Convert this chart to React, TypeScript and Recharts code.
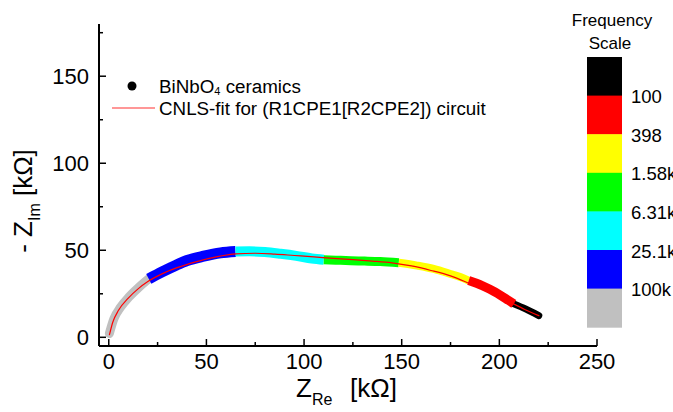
import React from "react";
import { ComposedChart, Line, XAxis, YAxis } from "recharts";

// measured points, grouped by frequency band (Z_Re, -Z_Im in kOhm)
const band100k = [
  { re: 0.3, im: 2.2 },
  { re: 2.6, im: 10.6 },
  { re: 6, im: 17.2 },
  { re: 10.2, im: 23 },
  { re: 15.4, im: 28.7 },
  { re: 20.5, im: 33.6 },
];
const band25k = [
  { re: 20.5, im: 33.6 },
  { re: 27.3, im: 37.6 },
  { re: 34.2, im: 41.3 },
  { re: 40.1, im: 44.1 },
  { re: 48.6, im: 46.6 },
  { re: 57.2, im: 48.5 },
  { re: 64.9, im: 49.3 },
];
const band6k = [
  { re: 64.9, im: 49.3 },
  { re: 72, im: 49.4 },
  { re: 80, im: 49 },
  { re: 88, im: 48 },
  { re: 96, im: 46.8 },
  { re: 104, im: 45.3 },
  { re: 110.1, im: 44.6 },
];
const band1k = [
  { re: 110.1, im: 44.6 },
  { re: 117, im: 44.3 },
  { re: 124, im: 44.0 },
  { re: 131, im: 43.8 },
  { re: 139, im: 43.5 },
  { re: 148.5, im: 42.8 },
];
const band398 = [
  { re: 148.5, im: 42.8 },
  { re: 157.9, im: 41.2 },
  { re: 166.4, im: 39.3 },
  { re: 175, im: 36.4 },
  { re: 180, im: 34.6 },
  { re: 184.3, im: 32.6 },
];
const band100 = [
  { re: 184.3, im: 32.6 },
  { re: 191.2, im: 29.7 },
  { re: 198, im: 25.9 },
  { re: 204.8, im: 21.1 },
  { re: 207.4, im: 19.2 },
];
const bandLow = [
  { re: 207.4, im: 19.2 },
  { re: 213.4, im: 16.3 },
  { re: 220.2, im: 12.5 },
];

// CNLS fit curve
const fitCurve = [
  { re: 0.3, im: 1.2 },
  { re: 2, im: 8.5 },
  { re: 5, im: 15.5 },
  { re: 10, im: 22.5 },
  { re: 15, im: 27.8 },
  { re: 20, im: 32 },
  { re: 27, im: 36.3 },
  { re: 35, im: 40 },
  { re: 45, im: 43.5 },
  { re: 55, im: 46.2 },
  { re: 65, im: 47.9 },
  { re: 75, im: 48.3 },
  { re: 85, im: 47.8 },
  { re: 95, im: 47.0 },
  { re: 105, im: 46.2 },
  { re: 115, im: 45.3 },
  { re: 125, im: 44.6 },
  { re: 135, im: 43.8 },
  { re: 145, im: 42.8 },
  { re: 155, im: 41.0 },
  { re: 165, im: 38.4 },
  { re: 175, im: 35.3 },
  { re: 185, im: 30.8 },
  { re: 195, im: 26 },
  { re: 205, im: 20.5 },
  { re: 213, im: 16 },
  { re: 220.5, im: 12.3 },
];

// draw order: black goes under red so its rounded start is hidden
const bands = [
  { data: band100k, color: "#c0c0c0", width: 9, cap: "round" },
  { data: band25k, color: "#0000ff", width: 11, cap: "butt" },
  { data: band6k, color: "#00ffff", width: 10, cap: "butt" },
  { data: band1k, color: "#00ff00", width: 9, cap: "butt" },
  { data: band398, color: "#ffff00", width: 8, cap: "butt" },
  { data: bandLow, color: "#000000", width: 7, cap: "round" },
  { data: band100, color: "#ff0000", width: 9, cap: "butt" },
];

const xTicks = [0, 25, 50, 75, 100, 125, 150, 175, 200, 225, 250];
const yTicks = [0, 25, 50, 75, 100, 125, 150, 175];

const scaleColors = ["#000000", "#ff0000", "#ffff00", "#00ff00", "#00ffff", "#0000ff", "#c0c0c0"];
const scaleLabels = ["100", "398", "1.58k", "6.31k", "25.1k", "100k"];

const FONT = "'Liberation Sans', Arial, sans-serif";

const XTick = (props: any) => {
  const { x, y, payload } = props;
  const major = payload.value % 50 === 0;
  return (
    <g>
      <line x1={x} x2={x} y1={y} y2={y - (major ? 7 : 4)} stroke="#000" strokeWidth={1.5} />
      {major && (
        <text x={x} y={y + 15} textAnchor="middle" dominantBaseline="central" fontSize={22} fontFamily={FONT} fill="#000">
          {payload.value}
        </text>
      )}
    </g>
  );
};

const YTick = (props: any) => {
  const { x, y, payload } = props;
  const major = payload.value % 50 === 0;
  return (
    <g>
      <line x1={x} x2={x + (major ? 7 : 4)} y1={y} y2={y} stroke="#000" strokeWidth={1.5} />
      {major && (
        <text x={x - 10} y={y} textAnchor="end" dominantBaseline="central" fontSize={22} fontFamily={FONT} fill="#000">
          {payload.value}
        </text>
      )}
    </g>
  );
};

export default function App() {
  const segH = 38.6;
  const barTop = 57;
  return (
    <div style={{ position: "absolute", left: 0, top: 0, width: 673, height: 412, background: "#fff", overflow: "hidden" }}>
      <ComposedChart width={673} height={412} margin={{ top: 24, right: 76, bottom: 0, left: 0 }}>
        <XAxis
          type="number"
          dataKey="re"
          domain={[-5, 250]}
          ticks={xTicks}
          interval={0}
          allowDataOverflow
          height={66}
          tickSize={0}
          tickMargin={0}
          tick={<XTick />}
          axisLine={{ stroke: "#000", strokeWidth: 2 }}
        />
        <YAxis
          type="number"
          dataKey="im"
          domain={[-5, 180]}
          ticks={yTicks}
          interval={0}
          allowDataOverflow
          width={99}
          tickSize={0}
          tickMargin={0}
          tick={<YTick />}
          axisLine={{ stroke: "#000", strokeWidth: 2 }}
        />
        {bands.map((b, i) => (
          <Line
            key={i}
            data={b.data}
            dataKey="im"
            type="monotone"
            stroke={b.color}
            strokeWidth={b.width}
            strokeLinecap={b.cap as any}
            dot={false}
            isAnimationActive={false}
          />
        ))}
        <Line
          data={fitCurve}
          dataKey="im"
          type="monotone"
          stroke="#ff0000"
          strokeWidth={1.2}
          dot={false}
          isAnimationActive={false}
        />
      </ComposedChart>

      <svg width={673} height={412} style={{ position: "absolute", left: 0, top: 0, pointerEvents: "none" }}>
        {/* legend */}
        <circle cx={132} cy={86} r={4.5} fill="#000" />
        <text x={159} y={86} dominantBaseline="central" fontSize={18.8} fontFamily={FONT} fill="#000">
          BiNbO<tspan fontSize={11} dy={5}>4</tspan>
          <tspan dy={-5}> ceramics</tspan>
        </text>
        <line x1={112} x2={155} y1={108} y2={108} stroke="#ff3030" strokeWidth={1.2} />
        <text x={159} y={108} dominantBaseline="central" fontSize={18.8} fontFamily={FONT} fill="#000">
          CNLS-fit for (R1CPE1[R2CPE2]) circuit
        </text>

        {/* axis titles */}
        <text x={296} y={397} fontSize={26} fontFamily={FONT} fill="#000">
          Z<tspan fontSize={16} dy={8}>Re</tspan>
          <tspan x={350} dy={-8}>[kΩ]</tspan>
        </text>
        <text
          x={0}
          y={0}
          transform="translate(32 201) rotate(-90)"
          textAnchor="middle"
          fontSize={26}
          fontFamily={FONT}
          fill="#000"
        >
          - Z<tspan fontSize={16} dy={8}>Im</tspan>
          <tspan dy={-8}> [kΩ]</tspan>
        </text>

        {/* frequency scale */}
        <text x={612} y={20} textAnchor="middle" dominantBaseline="central" fontSize={17} fontFamily={FONT} fill="#000">
          Frequency
        </text>
        <text x={610} y={43} textAnchor="middle" dominantBaseline="central" fontSize={17} fontFamily={FONT} fill="#000">
          Scale
        </text>
        {scaleColors.map((c, i) => (
          <rect key={c} x={587} y={barTop + i * segH} width={35} height={segH + 0.5} fill={c} />
        ))}
        {scaleLabels.map((l, i) => (
          <text
            key={l}
            x={631}
            y={barTop + (i + 1) * segH + 1}
            dominantBaseline="central"
            fontSize={18.5}
            fontFamily={FONT}
            fill="#000"
          >
            {l}
          </text>
        ))}
      </svg>
    </div>
  );
}
